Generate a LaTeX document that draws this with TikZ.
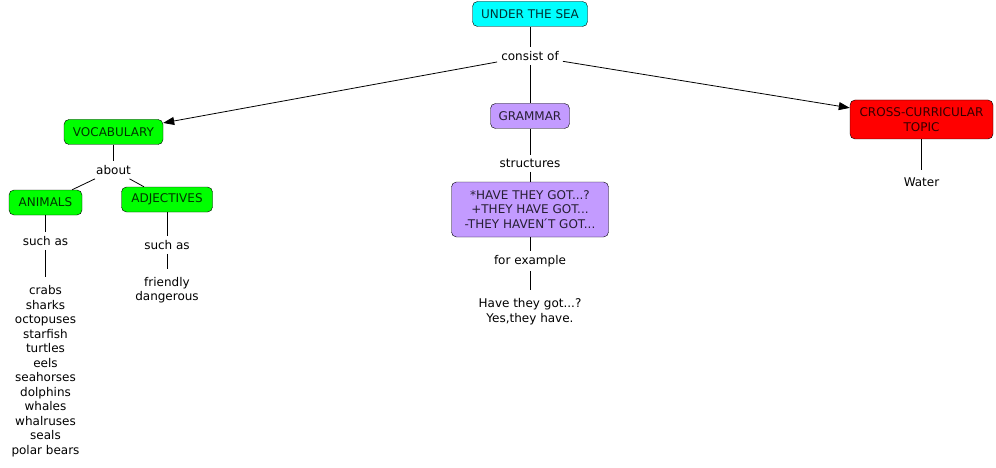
\documentclass[tikz,border=0pt]{standalone}
\usepackage{fontspec}
\setmainfont{DejaVu Sans}
\usepackage{xcolor}
\usetikzlibrary{arrows.meta}

\begin{document}
\begin{tikzpicture}[x=1pt,y=-1pt,
		every node/.style={font=\fontsize{12}{14.5}\selectfont,align=center},
		concept/.style={draw,rounded corners=5pt,inner xsep=6pt,minimum height=25pt,text opacity=0.8},
		linkword/.style={inner sep=4pt},
		leaf/.style={inner sep=8pt},
		link/.style={line width=0.8pt},
		arrowlink/.style={link,-{Triangle[length=11pt,width=8pt]}}]
			\definecolor{colorSea}{RGB}{0,255,255}
			\definecolor{colorVoc}{RGB}{0,255,0}
			\definecolor{colorGram}{RGB}{195,155,255}
			\definecolor{colorTopic}{RGB}{255,0,0}
			
			\useasboundingbox (0,0) rectangle (996,468);
			
			\node[concept,fill=colorSea,minimum width=115pt] (sea) at (530,14) {UNDER THE SEA};
			\node[linkword] (consist) at (530,56) {consist of};
			
			\node[concept,fill=colorVoc,minimum width=99pt] (voc) at (113.5,132) {VOCABULARY};
			\node[concept,fill=colorGram,minimum width=79pt] (gram) at (530,116) {GRAMMAR};
			\node[concept,fill=colorTopic,minimum width=143pt,minimum height=39pt] (topic) at (921.5,119.5) {CROSS-CURRICULAR\\TOPIC};
			
			\node[linkword] (about) at (113.5,170) {about};
			\node[concept,fill=colorVoc,minimum width=73pt] (animals) at (45.5,202.5) {ANIMALS};
			\node[concept,fill=colorVoc,minimum width=91pt] (adj) at (167,199.5) {ADJECTIVES};
			
			\node[linkword] (suchA) at (45.5,241) {such as};
			\node[linkword] (suchB) at (167,245) {such as};
			\node[leaf] (animallist) at (45.5,371) {crabs\\sharks\\octopuses\\starfish\\turtles\\eels\\seahorses\\dolphins\\whales\\whalruses\\seals\\polar bears};
			\node[leaf] (adjlist) at (167,290) {friendly\\dangerous};
			
			\node[linkword] (struct) at (530,163.5) {structures};
			\node[concept,fill=colorGram,minimum width=157pt,minimum height=55pt] (sentences) at (530,209.5) {*HAVE THEY GOT...?\\+THEY HAVE GOT...\\-THEY HAVEN\'{}T GOT...};
			\node[linkword] (example) at (530,261) {for example};
			\node[leaf] (answer) at (530,311.5) {Have they got...?\\Yes,they have.};
			
			\node[leaf] (water) at (921.5,182.5) {Water};
			
			\draw[link] (sea) -- (consist);
			\draw[arrowlink] (consist) -- (voc);
			\draw[link] (consist) -- (gram);
			\draw[arrowlink] (consist) -- (topic);
			
			\draw[link] (voc) -- (about);
			\draw[link] (about) -- (animals);
			\draw[link] (about) -- (adj);
			\draw[link] (animals) -- (suchA);
			\draw[link] (suchA) -- (animallist);
			\draw[link] (adj) -- (suchB);
			\draw[link] (suchB) -- (adjlist);
			
			\draw[link] (gram) -- (struct);
			\draw[link] (struct) -- (sentences);
			\draw[link] (sentences) -- (example);
			\draw[link] (example) -- (answer);
			
			\draw[link] (topic) -- (water);
		\end{tikzpicture}
\end{document}
